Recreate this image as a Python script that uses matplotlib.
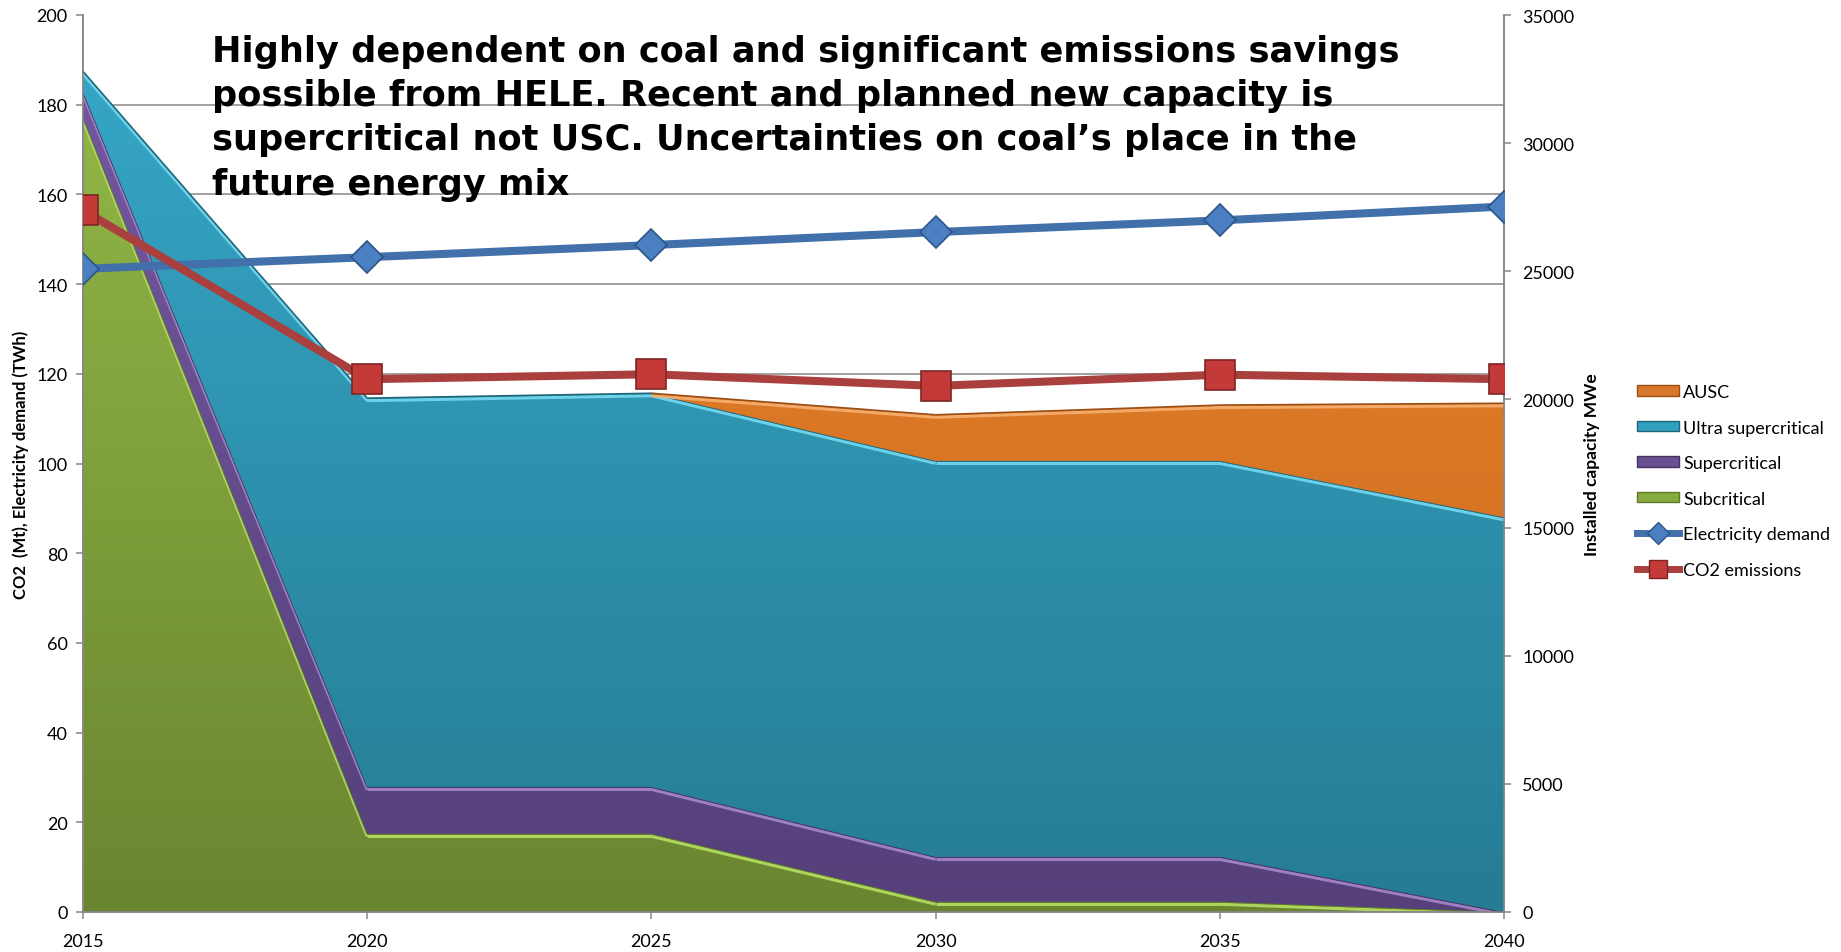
import numpy as np
import matplotlib
matplotlib.use("Agg")
import matplotlib.pyplot as plt
from matplotlib.patches import Patch
from matplotlib.lines import Line2D
from matplotlib.colors import LinearSegmentedColormap
import matplotlib.transforms as mtransforms

# ---------------- data ----------------
years = [2015, 2020, 2025, 2030, 2035, 2040]
subcritical = [31000, 3050, 3050, 400, 400, 0]        # MWe
supercritical = [1000, 1830, 1830, 1750, 1750, 0]     # MWe
ultra_supercritical = [800, 15170, 15360, 15450, 15450, 15400]  # MWe
ausc = [0, 0, 0, 1800, 2180, 4450]                    # MWe
electricity_demand = [143.4, 146.0, 148.7, 151.6, 154.2, 157.3]  # TWh
co2_emissions = [156.5, 118.8, 119.9, 117.3, 119.8, 118.8]       # Mt

left_ticks = list(range(0, 201, 20))
right_ticks = list(range(0, 35001, 5000))

title_text = ("Highly dependent on coal and significant emissions savings\n"
              "possible from HELE. Recent and planned new capacity is\n"
              "supercritical not USC. Uncertainties on coal\u2019s place in the\n"
              "future energy mix")

# ---------------- styling ----------------
plt.rcParams['font.family'] = ['Lato', 'DejaVu Sans']
W, H = 1841, 953
fig = plt.figure(figsize=(W / 100, H / 100), dpi=100)
L, R, B, T = 83, 1504, 913, 16
ax = fig.add_axes([L / W, 1 - B / H, (R - L) / W, (B - T) / H])
ax2 = ax.twinx()
ax.set_zorder(ax2.get_zorder() + 1)
ax.patch.set_visible(False)

grey = '#868686'
x = np.array(years, dtype=float)

layers = [
    ("Subcritical", subcritical, ('#93b947', '#6a8530'), '#b6de64', '#5f7a2a'),
    ("Supercritical", supercritical, ('#7458a0', '#55407a'), '#a487c9', '#44335f'),
    ("Ultra supercritical", ultra_supercritical, ('#36a6c6', '#257c94'), '#74d8f0', '#1f6678'),
    ("AUSC", ausc, ('#e8852c', '#c8661c'), '#f6b071', '#9b4e14'),
]

ymax2 = 35000
shift = mtransforms.ScaledTranslation(0, -2.5 / 100, fig.dpi_scale_trans)
base = np.zeros(len(years))
for i, (name, vals, (ctop, cbot), hl, dark) in enumerate(layers):
    v = np.array(vals, dtype=float)
    top = base + v
    poly = ax2.fill_between(x, base, top, facecolor='none', edgecolor='none', zorder=2 + i)
    cmap = LinearSegmentedColormap.from_list(name, [cbot, ctop])
    grad = np.linspace(0, 1, 256).reshape(-1, 1)
    im = ax2.imshow(grad, cmap=cmap, aspect='auto', origin='lower',
                    extent=[x[0], x[-1], 0, ymax2 * 0.95], zorder=2 + i,
                    interpolation='bilinear')
    im.set_clip_path(poly.get_paths()[0], transform=ax2.transData)
    # bevel: dark edge and light highlight along the top boundary (only where layer exists)
    for k in range(len(x) - 1):
        if v[k] == 0 and v[k + 1] == 0:
            continue
        seg_x = x[k:k + 2]
        seg_y = top[k:k + 2]
        ax2.plot(seg_x, seg_y, color=hl, lw=2.2, zorder=2.5 + i, alpha=0.9,
                 transform=ax2.transData + shift, solid_capstyle='butt')
        ax2.plot(seg_x, seg_y, color=dark, lw=1.2, zorder=2.6 + i, solid_capstyle='butt')
    base = top

ax2.set_ylim(0, ymax2)
ax2.set_xlim(2015, 2040)

# lines on left axis
ax.plot(x, electricity_demand, color='#4170aa', lw=5.8, zorder=5,
        marker='D', markersize=16, markerfacecolor='#4a80c2',
        markeredgecolor='#2d5487', markeredgewidth=1.2, solid_capstyle='round')
ax.plot(x, co2_emissions, color='#aa403d', lw=5.8, zorder=6,
        marker='s', markersize=21, markerfacecolor='#c43a38',
        markeredgecolor='#7e2523', markeredgewidth=1.2)

ax.set_ylim(0, 200)
ax.set_xlim(2015, 2040)
ax.set_yticks(left_ticks)
ax.set_xticks(years)
ax.set_xticklabels([str(y) for y in years])
ax2.set_yticks(right_ticks)

# grid (left-axis positions) drawn beneath the areas via minor ticks on ax2
ax2.set_yticks([t * ymax2 / 200 for t in left_ticks], minor=True)
ax2.yaxis.grid(True, which='minor', color=grey, lw=1.1, zorder=0)
ax2.yaxis.grid(False, which='major')
ax2.tick_params(axis='y', which='minor', length=0)
ax2.set_axisbelow(True)

for a in (ax, ax2):
    for s in a.spines.values():
        s.set_color(grey)
        s.set_linewidth(1.1)
    a.spines['top'].set_visible(False)

ax.tick_params(axis='y', direction='out', length=5, width=1.1, color=grey,
               labelsize=13, pad=6, labelcolor='black')
ax.tick_params(axis='x', direction='out', length=5, width=1.1, color=grey,
               labelsize=13, pad=10, labelcolor='black')
ax2.tick_params(axis='y', which='major', direction='out', length=5, width=1.1,
                color=grey, labelsize=13, pad=8, labelcolor='black')

fig.text(21 / W, 1 - 465 / H, "CO2  (Mt), Electricity demand (TWh)", rotation=90,
         ha='center', va='center', fontsize=12, fontweight='bold')
fig.text(1592 / W, 1 - 465 / H, "Installed capacity MWe", rotation=90,
         ha='center', va='center', fontsize=12.5, fontweight='bold')

ax.text(0.0905, 0.979, title_text, transform=ax.transAxes, ha='left', va='top',
        fontsize=25.3, fontweight='heavy', family=['DejaVu Sans'], linespacing=1.38,
        zorder=10)

handles = [
    Patch(facecolor='#d9782a', edgecolor='#9b4e14', label='AUSC'),
    Patch(facecolor='#31a0bf', edgecolor='#1f6678', label='Ultra supercritical'),
    Patch(facecolor='#6a4f92', edgecolor='#44335f', label='Supercritical'),
    Patch(facecolor='#85aa3e', edgecolor='#5f7a2a', label='Subcritical'),
    Line2D([], [], color='#4170aa', lw=5, marker='D', markersize=11,
           markerfacecolor='#4a80c2', markeredgecolor='#2d5487', label='Electricity demand'),
    Line2D([], [], color='#aa403d', lw=5, marker='s', markersize=13,
           markerfacecolor='#c43a38', markeredgecolor='#7e2523', label='CO2 emissions'),
]
fig.legend(handles=handles, loc='upper left', bbox_to_anchor=(1628 / W, 1 - 376 / H),
           frameon=False, fontsize=13, handlelength=2.3, handleheight=0.5,
           handletextpad=0.25, labelspacing=1.08, borderpad=0)

fig.savefig('out.png', dpi=100)
